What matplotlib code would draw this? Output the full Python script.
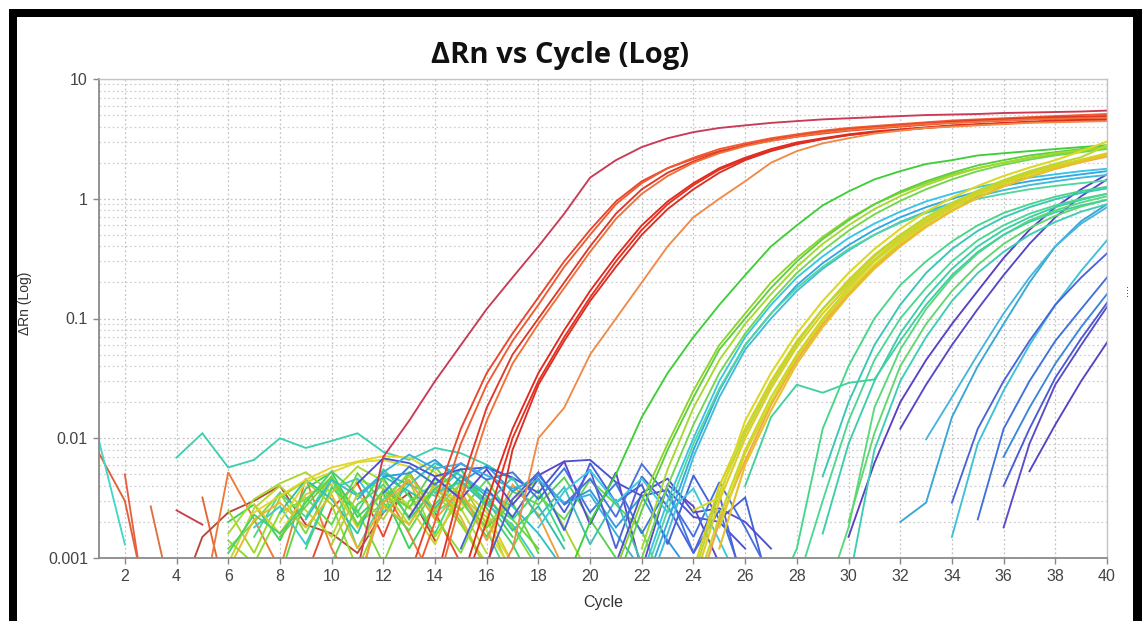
import matplotlib
matplotlib.use("Agg")
import matplotlib.pyplot as plt
from matplotlib.patches import Rectangle
from matplotlib.ticker import FixedLocator, NullFormatter

# ---- data (cycle start, delta Rn per cycle) ----
cycle_ticks = list(range(2, 41, 2))
y_ticks = [0.001, 0.01, 0.1, 1, 10]
y_tick_labels = ["0.001", "0.01", "0.1", "1", "10"]

red_start = [11, 13, 13, 14, 14, 15, 15, 16, 16]
red_values = [
    [0.0008, 0.007, 0.014, 0.03, 0.06, 0.12, 0.22, 0.4, 0.75, 1.5, 2.1, 2.7, 3.2, 3.6, 3.9,
     4.1, 4.3, 4.45, 4.6, 4.7, 4.8, 4.9, 5.0, 5.05, 5.1, 5.2, 5.25, 5.3, 5.35, 5.45],
    [0.0007, 0.003, 0.012, 0.035, 0.075, 0.15, 0.3, 0.55, 0.95, 1.4, 1.8, 2.15, 2.5, 2.8,
     3.05, 3.3, 3.5, 3.7, 3.85, 4.0, 4.15, 4.3, 4.4, 4.5, 4.6, 4.7, 4.8, 4.9],
    [0.0005, 0.002, 0.009, 0.028, 0.065, 0.13, 0.27, 0.5, 0.9, 1.35, 1.8, 2.2, 2.6, 2.9,
     3.2, 3.45, 3.7, 3.9, 4.05, 4.2, 4.35, 4.5, 4.6, 4.7, 4.8, 4.9, 5.0, 5.1],
    [0.0006, 0.004, 0.018, 0.05, 0.1, 0.2, 0.4, 0.75, 1.2, 1.65, 2.05, 2.45, 2.8, 3.1,
     3.35, 3.6, 3.8, 3.95, 4.1, 4.25, 4.4, 4.5, 4.6, 4.7, 4.8, 4.85, 4.9],
    [0.0005, 0.003, 0.014, 0.042, 0.09, 0.18, 0.36, 0.68, 1.1, 1.55, 2.0, 2.4, 2.75, 3.05,
     3.3, 3.55, 3.75, 3.9, 4.05, 4.2, 4.3, 4.4, 4.5, 4.6, 4.65, 4.7, 4.75],
    [0.0006, 0.003, 0.012, 0.035, 0.08, 0.17, 0.33, 0.6, 0.95, 1.35, 1.8, 2.2, 2.6, 2.95,
     3.2, 3.45, 3.65, 3.8, 3.95, 4.1, 4.2, 4.3, 4.4, 4.5, 4.55, 4.6],
    [0.0005, 0.002, 0.01, 0.03, 0.07, 0.15, 0.3, 0.55, 0.9, 1.3, 1.75, 2.15, 2.55, 2.9,
     3.15, 3.4, 3.6, 3.75, 3.9, 4.05, 4.15, 4.25, 4.35, 4.45, 4.5, 4.55],
    [0.0008, 0.008, 0.028, 0.065, 0.14, 0.27, 0.5, 0.82, 1.2, 1.65, 2.1, 2.5, 2.85, 3.15,
     3.4, 3.6, 3.75, 3.9, 4.05, 4.15, 4.25, 4.35, 4.45, 4.5, 4.55],
    [0.0005, 0.0012, 0.01, 0.018, 0.05, 0.1, 0.2, 0.4, 0.7, 1.0, 1.4, 2.0, 2.5, 2.9, 3.2,
     3.5, 3.7, 3.9, 4.0, 4.1, 4.2, 4.3, 4.35, 4.4, 4.45],
]
red_colors = ["#c93a55", "#e8452c", "#f05a30", "#e03828", "#f07038",
              "#e02a1e", "#e83020", "#d83024", "#f08a48"]

green_start = [19, 21, 21, 22, 22, 22, 22, 22, 22]
green_values = [
    [0.0006, 0.002, 0.005, 0.015, 0.035, 0.07, 0.13, 0.23, 0.4, 0.6, 0.88, 1.15, 1.45, 1.7,
     1.95, 2.1, 2.3, 2.4, 2.5, 2.6, 2.7, 2.8],
    [0.0008, 0.003, 0.009, 0.025, 0.06, 0.11, 0.2, 0.32, 0.48, 0.68, 0.9, 1.12, 1.35, 1.6,
     1.8, 2.0, 2.2, 2.35, 2.5, 2.65],
    [0.0006, 0.0025, 0.008, 0.022, 0.055, 0.1, 0.18, 0.3, 0.46, 0.66, 0.9, 1.15, 1.4, 1.65,
     1.9, 2.1, 2.3, 2.45, 2.6, 2.75],
    [0.0012, 0.0055, 0.018, 0.045, 0.09, 0.16, 0.27, 0.42, 0.6, 0.82, 1.05, 1.3, 1.55, 1.8,
     2.0, 2.2, 2.4, 2.55, 2.7],
    [0.0007, 0.003, 0.01, 0.03, 0.07, 0.13, 0.22, 0.33, 0.47, 0.62, 0.78, 0.95, 1.1, 1.25,
     1.38, 1.5, 1.6, 1.7, 1.78],
    [0.0005, 0.002, 0.008, 0.025, 0.06, 0.11, 0.19, 0.29, 0.41, 0.55, 0.7, 0.85, 1.0, 1.15,
     1.28, 1.4, 1.5, 1.6, 1.7],
    [0.001, 0.004, 0.013, 0.035, 0.075, 0.14, 0.24, 0.37, 0.54, 0.74, 0.96, 1.2, 1.45, 1.7,
     1.92, 2.12, 2.3, 2.45, 2.6],
    [0.0004, 0.0016, 0.007, 0.022, 0.055, 0.1, 0.17, 0.26, 0.37, 0.5, 0.64, 0.78, 0.92,
     1.05, 1.18, 1.3, 1.4, 1.5, 1.58],
    [0.0006, 0.0025, 0.009, 0.026, 0.06, 0.11, 0.18, 0.27, 0.38, 0.5, 0.63, 0.76, 0.88,
     1.0, 1.1, 1.2, 1.28, 1.35, 1.42],
]
green_colors = ["#3ecf38", "#8cd42c", "#5ccf3e", "#a6d82e", "#38c4e4",
                "#2fa8e6", "#72d64e", "#40bcd8", "#52d6a0"]

yellow_start = [24, 24, 24, 24, 25, 24, 25, 24]
yellow_values = [
    [0.0008, 0.004, 0.012, 0.03, 0.065, 0.12, 0.21, 0.34, 0.5, 0.7, 0.92, 1.15, 1.4, 1.65,
     1.9, 2.1, 2.3],
    [0.0006, 0.003, 0.01, 0.026, 0.058, 0.11, 0.19, 0.31, 0.47, 0.66, 0.88, 1.12, 1.37,
     1.62, 1.86, 2.08, 2.3],
    [0.0005, 0.0022, 0.008, 0.022, 0.05, 0.1, 0.18, 0.3, 0.45, 0.64, 0.86, 1.1, 1.35, 1.6,
     1.85, 2.1, 2.35],
    [0.0004, 0.002, 0.0065, 0.019, 0.045, 0.09, 0.16, 0.27, 0.41, 0.59, 0.8, 1.03, 1.27,
     1.52, 1.78, 2.02, 2.25],
    [0.0018, 0.0075, 0.02, 0.048, 0.095, 0.17, 0.28, 0.43, 0.62, 0.84, 1.08, 1.33, 1.6,
     1.86, 2.12, 2.4],
    [0.0007, 0.0035, 0.011, 0.028, 0.062, 0.12, 0.2, 0.33, 0.49, 0.69, 0.92, 1.17, 1.43,
     1.7, 1.96, 2.22, 2.8],
    [0.0012, 0.006, 0.017, 0.042, 0.085, 0.155, 0.26, 0.4, 0.58, 0.79, 1.02, 1.27, 1.52,
     1.78, 2.04, 2.3],
    [0.0025, 0.0032, 0.014, 0.035, 0.075, 0.14, 0.24, 0.38, 0.56, 0.78, 1.02, 1.28, 1.55,
     1.82, 2.1, 2.5, 3.0],
]
yellow_colors = ["#d6d01e", "#e2ca22", "#c8d82a", "#f0a848",
                 "#d8d220", "#b8d832", "#e8c02a", "#dcd828"]

teal_start = [27, 29, 29, 29, 28, 30, 30, 26]
teal_values = [
    [0.0004, 0.0012, 0.012, 0.04, 0.1, 0.19, 0.3, 0.44, 0.6, 0.76, 0.9, 1.04, 1.16, 1.26],
    [0.0016, 0.009, 0.03, 0.075, 0.15, 0.26, 0.4, 0.55, 0.7, 0.85, 0.98, 1.1],
    [0.0004, 0.0018, 0.018, 0.055, 0.12, 0.22, 0.35, 0.5, 0.66, 0.8, 0.93, 1.05],
    [0.0048, 0.02, 0.06, 0.13, 0.24, 0.38, 0.54, 0.7, 0.85, 0.99, 1.12, 1.22],
    [0.0006, 0.003, 0.014, 0.045, 0.1, 0.18, 0.3, 0.45, 0.6, 0.75, 0.88, 1.0, 1.1],
    [0.0006, 0.008, 0.03, 0.07, 0.14, 0.24, 0.36, 0.5, 0.64, 0.78, 0.9],
    [0.002, 0.011, 0.04, 0.09, 0.17, 0.28, 0.42, 0.57, 0.72, 0.86, 0.98],
    [0.004, 0.015, 0.028, 0.024, 0.029, 0.031, 0.065, 0.13, 0.23, 0.36, 0.5, 0.64, 0.77,
     0.88, 0.98],
]
teal_colors = ["#46d68a", "#3ccfa6", "#5ad87a", "#38c6b6",
               "#4cd894", "#3ccdb2", "#62d66e", "#42d0a0"]

blue_start = [30, 32, 32, 33, 34, 34, 35, 36, 36, 36, 37]
blue_values = [
    [0.0015, 0.0062, 0.02, 0.045, 0.09, 0.17, 0.32, 0.55, 0.85, 1.2, 1.6],
    [0.012, 0.028, 0.06, 0.12, 0.23, 0.42, 0.7, 1.05, 1.45],
    [0.002, 0.0029, 0.015, 0.04, 0.09, 0.2, 0.4, 0.65, 0.9],
    [0.0098, 0.022, 0.05, 0.11, 0.22, 0.4, 0.62, 0.85],
    [0.0015, 0.009, 0.025, 0.06, 0.13, 0.25, 0.45],
    [0.0029, 0.012, 0.03, 0.065, 0.13, 0.22, 0.35],
    [0.0021, 0.012, 0.03, 0.065, 0.12, 0.22],
    [0.0018, 0.009, 0.028, 0.06, 0.125],
    [0.004, 0.012, 0.032, 0.068, 0.135],
    [0.007, 0.018, 0.042, 0.085, 0.16],
    [0.0053, 0.013, 0.03, 0.063],
]
blue_colors = ["#5a3fc4", "#5548c8", "#3aa6d6", "#48b4dc", "#3ec0d8", "#4a64d8",
               "#4070dc", "#5a4cc8", "#4a5ad4", "#3a86da", "#5444c0"]

# baseline noise before amplification
noise_start = [1, 1, 2, 3, 4, 5, 4, 5, 9, 4,
               6, 6, 6, 7, 6, 7, 8, 7, 9, 6, 8, 8, 6, 10,
               6, 7, 6, 8, 9, 10, 11, 17,
               11, 12, 13, 12, 15, 11, 16, 14, 21, 19, 18]
noise_values = [
    [0.0075, 0.003, 0.0003],
    [0.0095, 0.0013],
    [0.005, 0.0002],
    [0.0027, 0.0003],
    [0.0025, 0.0019],
    [0.0032, 0.0004],
    [0.0004, 0.0015, 0.0024, 0.003, 0.004, 0.0019, 0.0016, 0.0011, 0.0024, 0.0035, 0.0014],
    [0.0004, 0.0052, 0.0021, 0.0008, 0.0046, 0.0012, 0.0005, 0.0038, 0.0016, 0.0006],
    [0.0007, 0.0026, 0.0042, 0.0015, 0.0052, 0.0024, 0.0009],
    [0.0069, 0.011, 0.0057, 0.0066, 0.01, 0.0083, 0.0095, 0.011, 0.0077, 0.0066, 0.0083,
     0.0075, 0.006, 0.0045],
    [0.0012, 0.002, 0.0035, 0.0016, 0.0045, 0.0025, 0.0009, 0.003, 0.0042, 0.002, 0.0008],
    [0.002, 0.0028, 0.0014, 0.0038, 0.0052, 0.0022, 0.0035, 0.0012, 0.0028, 0.0048, 0.003,
     0.0015],
    [0.0009, 0.0026, 0.004, 0.0025, 0.0015, 0.0045, 0.0038, 0.0019, 0.0042, 0.0026, 0.0011],
    [0.0015, 0.0035, 0.0022, 0.0048, 0.0012, 0.0031, 0.005, 0.0024, 0.0034, 0.0017, 0.0006],
    [0.0025, 0.0011, 0.0032, 0.0044, 0.0028, 0.0008, 0.0026, 0.0044, 0.0015, 0.0032,
     0.0022, 0.0007],
    [0.0018, 0.0027, 0.0013, 0.0038, 0.0046, 0.0024, 0.0041, 0.0033, 0.0055, 0.0028,
     0.0019, 0.0009],
    [0.0007, 0.0032, 0.0019, 0.0051, 0.0029, 0.0017, 0.0038, 0.0025, 0.0045, 0.0021, 0.0012],
    [0.0028, 0.0016, 0.0034, 0.0041, 0.0018, 0.0036, 0.0027, 0.0013, 0.0039, 0.0024, 0.0009],
    [0.0012, 0.0039, 0.0024, 0.0055, 0.0033, 0.0016, 0.0044, 0.003, 0.0021, 0.0037, 0.0014],
    [0.0014, 0.0009, 0.0024, 0.0031, 0.0047, 0.0019, 0.0029, 0.0052, 0.0022, 0.0011,
     0.0033, 0.0018, 0.0008],
    [0.0024, 0.0045, 0.0031, 0.0016, 0.0048, 0.0036, 0.0026, 0.0048, 0.0033, 0.0017,
     0.0027, 0.0012],
    [0.002, 0.0043, 0.0052, 0.0063, 0.0066, 0.0058, 0.0041, 0.0029, 0.0017, 0.0008],
    [0.0008, 0.0021, 0.0029, 0.0018, 0.0034, 0.0012, 0.0027, 0.0019, 0.0041, 0.0022, 0.0008],
    [0.0009, 0.0028, 0.0041, 0.0022, 0.0046, 0.0031, 0.0015, 0.0036, 0.0028, 0.0047,
     0.0021, 0.001],
    [0.0016, 0.0031, 0.0042, 0.0052, 0.0035, 0.0058, 0.0044, 0.0027, 0.0036, 0.0019, 0.0009],
    [0.0024, 0.0033, 0.0045, 0.0057, 0.0064, 0.0071, 0.0069, 0.0052, 0.0034, 0.002, 0.0009],
    [0.0011, 0.0023, 0.0016, 0.0029, 0.0053, 0.0034, 0.0047, 0.0021, 0.0038, 0.0055,
     0.0026, 0.0013, 0.0005],
    [0.0015, 0.0027, 0.0048, 0.0019, 0.0037, 0.0026, 0.0058, 0.0032, 0.0018, 0.0029, 0.0011],
    [0.0021, 0.0045, 0.0033, 0.0051, 0.0041, 0.0062, 0.0049, 0.0035, 0.0027, 0.0016, 0.0008],
    [0.0013, 0.0034, 0.0021, 0.0049, 0.0025, 0.0042, 0.0019, 0.0031, 0.0045, 0.0018, 0.0007],
    [0.0006, 0.0029, 0.0045, 0.0021, 0.0037, 0.0014, 0.0041, 0.0023, 0.0008],
    [0.0012, 0.0033, 0.0021, 0.0045, 0.0028, 0.0017, 0.0005],
    [0.0042, 0.0068, 0.0062, 0.0048, 0.0055, 0.0057, 0.0047, 0.0035, 0.0064, 0.0066,
     0.0043, 0.0033, 0.0037, 0.0022, 0.002, 0.0012],
    [0.0035, 0.0058, 0.0041, 0.0062, 0.0045, 0.0052, 0.0031, 0.0056, 0.0024, 0.0042,
     0.0016, 0.0038, 0.0011, 0.0025, 0.0006],
    [0.0022, 0.0047, 0.0031, 0.0055, 0.0028, 0.0049, 0.0064, 0.0019, 0.0052, 0.0008,
     0.0041, 0.0027, 0.0009],
    [0.0048, 0.0051, 0.0066, 0.0043, 0.0059, 0.0036, 0.0049, 0.0028, 0.0037, 0.0018,
     0.0033, 0.0014, 0.0007],
    [0.0012, 0.0038, 0.0022, 0.0046, 0.0017, 0.0062, 0.0029, 0.0041, 0.0013, 0.0049,
     0.0021, 0.0032, 0.0005],
    [0.0031, 0.0052, 0.0073, 0.0056, 0.0061, 0.0049, 0.0038, 0.0045, 0.0029, 0.0034,
     0.0016, 0.0008],
    [0.0009, 0.0031, 0.0052, 0.0024, 0.0055, 0.0012, 0.0048, 0.0027, 0.0011, 0.0034, 0.0005],
    [0.0035, 0.0043, 0.0028, 0.0047, 0.0022, 0.0039, 0.0013, 0.0031, 0.0009],
    [0.0009, 0.0035, 0.0046, 0.0024, 0.0026, 0.002, 0.0012],
    [0.0028, 0.0046, 0.0022, 0.0061, 0.0033, 0.0015, 0.0043, 0.0018, 0.0007],
    [0.0018, 0.0036, 0.0054, 0.0029, 0.0046, 0.0024, 0.0038, 0.0014, 0.0005],
]
noise_colors = ["#e0603a", "#40d8c8", "#e86040", "#e07040", "#c8404c", "#e06838",
                "#b84838", "#f07838", "#e84830", "#3fcfae",
                "#7fd83a", "#3cd25a", "#b8d830", "#52d690", "#9ed828", "#40c8d0",
                "#62d848", "#d6cc2a", "#3fd878", "#88dc30", "#2fc0a8", "#dcd830",
                "#e8b830", "#58d058",
                "#a8d830", "#e4d42a", "#48d070", "#6cd040", "#30c0c8", "#b0d030",
                "#f0a040", "#60d850",
                "#4a52d0", "#3a78e0", "#5a48c8", "#2f9ae0", "#4462d8", "#38b0e0",
                "#5060d8", "#40c0b0", "#5050c8", "#4870e0", "#3fc8e0"]

W, H = 1142, 621
fig = plt.figure(figsize=(W / 100, H / 100), dpi=100)
fig.patch.set_facecolor("white")

# black frame around the screenshot
for (x0, y0, w, h) in [(9, 0, 8, 612), (9, 604, 1133, 8), (1133, 0, 9, 612)]:
    fig.add_artist(Rectangle((x0 / W, y0 / H), w / W, h / H, transform=fig.transFigure,
                             facecolor="black", edgecolor="none"))

ax = fig.add_axes([99 / W, 63 / H, 1008 / W, 479 / H])
ax.set_yscale("log")


def draw_group(starts, values, colors, lw=1.35):
    for s, v, c in zip(starts, values, colors):
        ax.plot(range(s, s + len(v)), v, color=c, lw=lw, solid_joinstyle="miter")


draw_group(noise_start, noise_values, noise_colors, lw=1.35)
draw_group(blue_start, blue_values, blue_colors)
draw_group(teal_start, teal_values, teal_colors)
draw_group(green_start, green_values, green_colors)
draw_group(yellow_start, yellow_values, yellow_colors, lw=1.5)
draw_group(red_start, red_values, red_colors)

ax.set_xlim(1, 40)
ax.set_ylim(0.001, 10)
ax.xaxis.set_major_locator(FixedLocator(cycle_ticks))
ax.yaxis.set_major_locator(FixedLocator(y_ticks))
ax.set_yticklabels(y_tick_labels)
ax.yaxis.set_minor_locator(FixedLocator([m * 10.0 ** e for e in range(-3, 1) for m in range(2, 10)]))
ax.yaxis.set_minor_formatter(NullFormatter())
ax.tick_params(axis="both", which="major", length=4, width=1, color="#888888",
               labelcolor="#444444", labelsize=11.5, pad=4)
ax.tick_params(axis="y", which="minor", length=0)
for lab in ax.get_xticklabels() + ax.get_yticklabels():
    lab.set_fontfamily("Liberation Sans")

ax.grid(True, which="major", axis="both", color="#c4c4c4", lw=0.9, ls=(0, (1.5, 2)))
ax.grid(True, which="minor", axis="y", color="#d0d0d0", lw=0.9, ls=(0, (1.5, 2)))
ax.set_axisbelow(True)

for side in ["left", "bottom"]:
    ax.spines[side].set_color("#8a8a8a")
    ax.spines[side].set_linewidth(1.3)
for side in ["top", "right"]:
    ax.spines[side].set_color("#c4c4c4")
    ax.spines[side].set_linewidth(1.0)

ax.set_xlabel("Cycle", fontsize=11.5, color="#333333", family="Liberation Sans", labelpad=8)
ax.set_ylabel("ΔRn (Log)", fontsize=10, color="#333333", family="Liberation Sans")
ax.yaxis.set_label_coords(-0.066, 0.532)
fig.text(560 / W, 1 - 55 / H, "ΔRn vs Cycle (Log)", ha="center", va="center",
         fontsize=21, fontweight="bold", family="Open Sans", color="#111111")
fig.text(1128 / W, 1 - 290 / H, "····", rotation=90, ha="center", va="center",
         fontsize=7, color="#333333")

fig.savefig("out.png", dpi=100, facecolor="white")
